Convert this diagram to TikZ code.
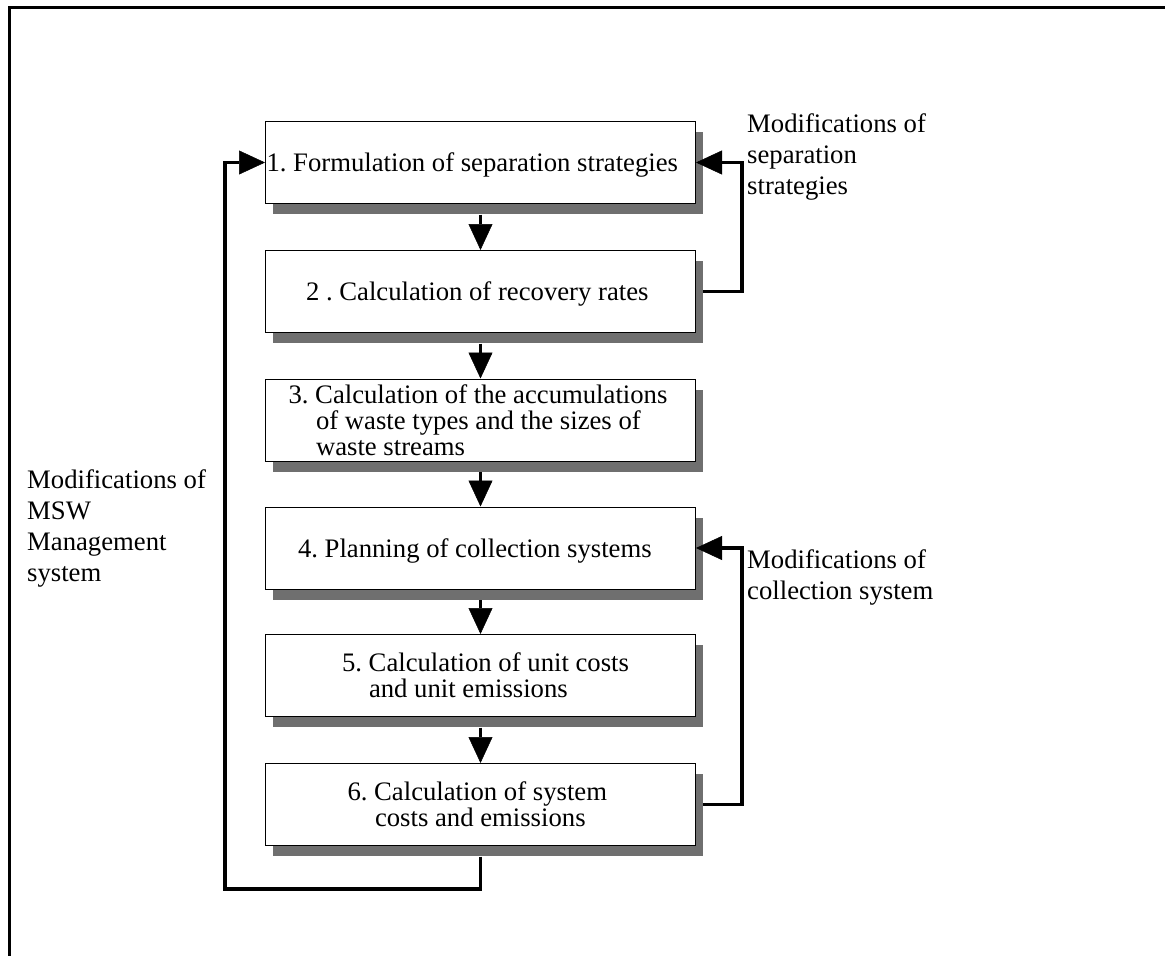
\documentclass[tikz,border=0pt]{standalone}
\usepackage{fontspec}
\setmainfont{Liberation Serif}
\usetikzlibrary{arrows.meta,shadows}
\definecolor{shgray}{HTML}{6F6F6F}
\newcommand\boxfont{\fontsize{26.7pt}{26pt}\selectfont}
\newcommand\notefont{\fontsize{26.7pt}{31pt}\selectfont}
% natural inter-word spacing inside aligned node text
\newcommand\naturalspaces{\spaceskip=0pt\xspaceskip=0pt\frenchspacing}
\begin{document}
\begin{tikzpicture}[x=1pt,y=-1pt,
  stage/.style={draw=black, line width=1pt, fill=white,
    minimum width=430pt, minimum height=82pt, text width=430pt,
    inner xsep=0pt, inner ysep=0pt, align=left, font=\boxfont,
    drop shadow={shadow xshift=7pt, shadow yshift=-10.5pt, fill=shgray, opacity=1}},
  oneline/.style={text depth=0pt},
  flow/.style={line width=3.6pt, line join=miter,
    -{Triangle[length=26pt,width=24pt,line width=0.5pt]}},
  note/.style={anchor=base west, inner sep=0pt, font=\notefont},
]
\useasboundingbox (0,0) rectangle (1165,956);

% frame
\draw[line width=3pt] (9.5,956) -- (9.5,7.5) -- (1165,7.5);

% process stages
\node[stage, oneline] (b1) at (480.5,162.5) {\naturalspaces\hspace*{1pt}1. Formulation of separation strategies};
\node[stage, oneline] (b2) at (480.5,291.5) {\naturalspaces\hspace*{40.5pt}2 . Calculation of recovery rates};
\node[stage] (b3) at (480.5,420) {\naturalspaces\hspace*{23pt}3. Calculation of the accumulations\\
  \hspace*{50.5pt}of waste types and the sizes of\\
  \hspace*{50.5pt}waste streams};
\node[stage, oneline] (b4) at (480.5,548) {\naturalspaces\hspace*{32.5pt}4. Planning of collection systems};
\node[stage] (b5) at (480.5,675.5) {\naturalspaces\hspace*{76.5pt}5. Calculation of unit costs\\
  \hspace*{103.5pt}and unit emissions};
\node[stage] (b6) at (480.5,804.5) {\naturalspaces\hspace*{82pt}6. Calculation of system\\
  \hspace*{109.5pt}costs and emissions};

% feedback labels
\node[note] (nsep) at (747,132.3) {\begin{tabular}[t]{@{}l@{}}Modifications of\\separation\\strategies\end{tabular}};
\node[note] (ncol) at (747,568) {\begin{tabular}[t]{@{}l@{}}Modifications of\\collection system\end{tabular}};
\node[note] (nmsw) at (27,488.3) {\begin{tabular}[t]{@{}l@{}}Modifications of\\MSW\\Management\\system\end{tabular}};

% main flow
\foreach \a/\b in {b1/b2,b2/b3,b3/b4,b4/b5,b5/b6}
  \draw[flow] ([yshift=-10.5pt]\a.south) -- (\b.north);

% feedback loops
\coordinate (rx) at (741.7,0);
\coordinate (lx) at (225,889);
\draw[flow] ([xshift=7pt]b2.east) -| (rx |- b1.east) -- (b1.east);
\draw[flow] ([xshift=7pt]b6.east) -| (rx |- b4.east) -- (b4.east);
\draw[flow] ([yshift=-10.5pt]b6.south) |- (lx) |- (b1.west);
\end{tikzpicture}
\end{document}
